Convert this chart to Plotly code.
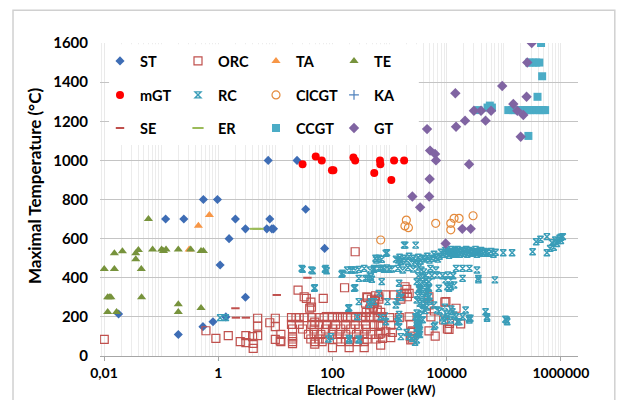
import plotly.graph_objects as go

# ---- data: (electrical power kW, maximal temperature °C) per technology ----
ST = [(0.018, 215), (0.2, 110), (0.54, 150), (0.81, 175), (1.36, 200), (1.08, 465),
      (3.0, 300), (1.55, 600), (3.0, 650), (2.0, 700), (0.12, 700), (0.25, 700),
      (0.55, 800), (0.97, 800), (7.1, 650), (8.7, 650), (9.3, 650), (8.0, 700),
      (34, 750), (73, 550), (7.5, 1000), (24, 1000)]

ORC = [(0.0101, 85), (0.61, 129), (0.91, 90), (1.5, 104), (2.43, 73), (3.05, 104),
       (3.05, 68), (4.0, 99), (4.1, 65), (4.1, 39), (4.9, 193), (4.9, 153), (4.9, 104),
       (8, 170), (10, 193), (10, 150), (10, 85), (12.2, 78), (12.5, 111), (12.5, 73),
       (19.2, 196), (23, 196), (26.2, 196), (32, 196), (43.6, 196), (58.6, 196),
       (71.6, 196), (100, 196), (122, 196), (150, 196), (182, 196), (210, 196),
       (255, 196), (320, 196), (380, 196), (470, 196), (610, 196), (1000, 196), (1480, 196),
       (19.2, 162), (26.2, 162), (43.6, 162), (58.6, 162), (78.5, 162), (114, 162),
       (171, 162), (250, 162), (380, 162), (540, 162), (1050, 158),
       (20, 138), (30, 138), (47.8, 138), (76, 138), (100, 138), (140, 138), (210, 138),
       (290, 138), (390, 138), (4900, 128), (10300, 138),
       (38, 111), (47.8, 111), (62.7, 111), (100, 111), (131, 111), (171, 111),
       (264, 111), (360, 111), (470, 111), (650, 111),
       (20, 87), (41.8, 87), (58.6, 87), (76, 87), (122, 87), (171, 87), (290, 87),
       (405, 87), (580, 87), (2350, 82),
       (20, 73), (49.7, 73), (66, 73), (140, 73), (196, 73), (273, 73), (360, 73),
       (100, 43), (196, 43), (360, 43),
       (20, 98), (20, 63), (49, 61), (49, 173),
       (25, 337), (35, 295), (42, 275), (40, 244), (43, 250), (32, 303), (69, 295),
       (163, 349), (250, 533), (410, 298), (570, 308), (650, 291), (535, 269),
       (610, 235), (390, 223), (470, 261), (700, 223), (700, 162), (700, 117),
       (650, 303), (850, 312), (1200, 312), (1580, 303), (1800, 320), (2200, 320),
       (2050, 303), (1580, 291), (1870, 354), (2000, 341), (750, 193), (650, 158),
       (860, 124), (1120, 121), (750, 90), (1050, 94), (700, 56), (2200, 200),
       (2350, 162), (2500, 124), (2500, 87), (2300, 102), (4900, 261), (6100, 230),
       (5300, 200), (9700, 278), (14600, 244), (11200, 167), (8900, 184), (9300, 275),
       (17600, 164), (11000, 136), (6300, 102), (4900, 303), (2500, 129),
       (400, 303), (480, 290), (550, 280), (450, 240), (520, 250), (380, 270)]

TA = [(0.31, 545), (0.45, 666), (0.70, 721)]

TE = [(0.0101, 445), (0.0152, 445), (0.0152, 525), (0.021, 535), (0.036, 494),
      (0.036, 525), (0.040, 542), (0.045, 445), (0.060, 700), (0.071, 545),
      (0.102, 545), (0.110, 537), (0.122, 545), (0.20, 545), (0.33, 545), (0.50, 537),
      (0.55, 537), (0.0116, 300), (0.0124, 300), (0.0132, 300), (0.0455, 300),
      (0.0116, 225), (0.0166, 225), (0.20, 265), (0.20, 225), (0.50, 245)]

mGT = [(30, 980), (51, 1020), (65, 1000), (98, 950), (104, 950), (233, 1015),
       (250, 1000), (540, 935), (680, 1000), (690, 980), (1075, 900), (1200, 1000),
       (1800, 1000)]

RC = [(1.08, 196), (1.36, 196),
      (29, 448), (30, 443), (43, 440), (45, 436), (74, 443), (76, 448), (79, 436),
      (48, 346), (49, 349), (240, 346), (250, 349), (196, 247), (190, 244), (290, 278),
      (440, 264), (273, 201), (700, 201), (830, 205), (860, 175), (470, 278), (535, 278),
      (650, 320), (1470, 193), (1470, 150), (1580, 99), (94, 99), (85, 87), (196, 82),
      (196, 90), (290, 82), (290, 87),
      (150, 423), (182, 440), (222, 440), (250, 440), (290, 443), (145, 418), (210, 440),
      (360, 448), (455, 440), (535, 443), (800, 443), (1000, 443),
      (290, 397), (380, 397), (410, 397), (470, 405), (490, 392), (730, 380),
      (570, 500), (650, 500), (535, 448), (650, 448), (750, 448), (860, 525), (590, 491),
      (730, 494), (900, 528), (1430, 491), (1580, 482), (1880, 567), (2870, 567),
      (1800, 567),
      (1300, 495), (1500, 505), (1600, 485), (1800, 500), (2000, 490), (2200, 510),
      (2400, 480), (2600, 500), (2900, 490), (3200, 505), (3500, 485), (3800, 500),
      (4200, 495), (4600, 510), (5000, 490), (5500, 500), (6000, 520), (6500, 505),
      (7000, 495), (7500, 510),
      (3000, 470), (3300, 455), (3600, 440), (4000, 430), (3200, 410), (3800, 400),
      (4400, 390), (3000, 380), (3500, 370), (4100, 360), (4800, 350), (3300, 340),
      (3900, 330), (4600, 320), (3100, 310), (3700, 300), (4300, 290), (5000, 280),
      (3400, 270), (3900, 260), (4500, 250), (3700, 240), (4200, 232), (3000, 220),
      (3500, 210), (3200, 195), (3800, 185), (3000, 170), (3400, 160), (3100, 145),
      (3300, 130), (3000, 120), (3400, 110),
      (700, 448), (900, 450), (1100, 445), (1400, 448), (1700, 440), (2100, 452),
      (2600, 445), (5200, 448), (6500, 440), (14600, 448), (19000, 448), (25000, 448),
      (34000, 440),
      (4300, 412), (5500, 410), (6800, 414), (8500, 410), (10500, 414), (13000, 410),
      (36000, 397), (19000, 397), (9600, 389), (11800, 389), (70000, 389), (36000, 389),
      (10300, 354), (11800, 354), (13500, 363), (7300, 346), (11000, 346), (4900, 346),
      (3300, 346), (1470, 372), (4900, 380), (4900, 303),
      (920, 278), (1290, 261), (1370, 278), (3000, 286), (1470, 320), (1600, 300),
      (6000, 261), (6800, 235), (9300, 250), (10300, 201), (11800, 184), (13500, 210),
      (15400, 175), (12600, 226), (14600, 201), (16700, 175), (19000, 201),
      (21500, 235), (25000, 184), (26000, 193), (24600, 193), (10000, 215), (8500, 195),
      (7500, 230), (12000, 240), (9000, 180), (6300, 158), (6000, 150),
      (48000, 226), (51000, 201), (51000, 193), (107000, 188), (115000, 175),
      (112000, 184),
      (2870, 201), (3000, 184), (3300, 167), (3000, 141), (3300, 124), (3000, 82),
      (3300, 150), (3200, 116), (1470, 213), (1380, 175), (2000, 120), (2200, 100),
      (2500, 90), (2800, 70),
      (8000, 530), (8800, 520), (9500, 540), (10000, 525), (10500, 535), (11000, 515),
      (11500, 530), (12000, 545), (12500, 525), (13000, 535), (13500, 520),
      (14000, 540), (14500, 530), (15000, 525), (15500, 545), (16000, 535),
      (17000, 520), (18000, 530), (19000, 540), (20000, 525), (21000, 535),
      (22000, 545), (23000, 520), (24000, 530), (25000, 540), (26500, 525),
      (28000, 535), (30000, 530), (32000, 545), (34000, 520), (36000, 535),
      (38000, 528), (40000, 540), (43000, 525), (46000, 535), (50000, 530),
      (55000, 525), (60000, 535), (66000, 520), (72000, 530), (98000, 528),
      (140000, 528), (320000, 533),
      (370000, 584), (440000, 597), (570000, 610), (700000, 579), (800000, 593),
      (950000, 602), (1000000, 607), (1080000, 610), (650000, 550), (750000, 556),
      (570000, 528), (900000, 590), (1000000, 590), (850000, 575)]

ClCGT = [(700, 593), (1860, 665), (1970, 695), (2140, 656), (6430, 678), (11800, 678),
         (11800, 645), (13500, 704), (16500, 704), (29000, 717)]

# Kalina cycle: legend entry only, no plotted point
KA = [(None, None)]

SE = [(2.0, 244), (2.04, 196), (3.05, 196), (10.6, 312), (36.5, 400), (77, 220),
      (95, 220), (110, 220), (130, 220), (160, 220), (200, 220), (250, 220),
      (300, 220), (360, 220), (450, 220), (600, 220), (750, 220), (540, 303)]

ER = [(4.5, 650), (5.0, 650)]

CCGT = [(450000, 1600), (280000, 1500), (320000, 1500), (370000, 1500), (420000, 1500),
        (470000, 1430), (390000, 1325), (36000, 1257), (52000, 1270), (57000, 1280),
        (62000, 1270), (120000, 1257), (140000, 1257), (160000, 1257), (180000, 1257),
        (200000, 1257), (230000, 1257), (260000, 1257), (290000, 1257), (330000, 1257),
        (380000, 1257), (430000, 1257), (480000, 1257), (530000, 1257), (270000, 1125)]

GT = [(2510, 815), (4950, 815), (3430, 760), (4540, 1160), (5130, 1050), (6270, 1033),
      (6500, 1000), (5040, 905), (9600, 575), (18800, 650), (26400, 650), (24700, 980),
      (14200, 1343), (14600, 1172), (21000, 1203), (30000, 1254), (40000, 1254),
      (60000, 1254), (48000, 1203), (94000, 1380), (147000, 1288), (173000, 1254),
      (220000, 1232), (198000, 1121), (251000, 1325), (258000, 1500), (309000, 1600)]

x_tickvals = [0.01, 1, 100, 10000, 1000000]
x_ticktext = ["0,01", "1", "100", "10000", "1000000"]

# name, points, marker style, legend row
series = [
    ("ST", ST, dict(symbol="diamond", size=7, color="#3E6DB5"), "legend"),
    ("ORC", ORC, dict(symbol="square-open", size=8, color="#C0504D",
                      line=dict(width=1.2)), "legend"),
    ("TA", TA, dict(symbol="triangle-up", size=8, color="#F79646"), "legend"),
    ("TE", TE, dict(symbol="triangle-up", size=8, color="#77933C"), "legend"),
    ("mGT", mGT, dict(symbol="circle", size=8, color="#FF0000"), "legend2"),
    ("RC", RC, dict(symbol="hourglass-open", size=6, color="#3A9DB8",
                    line=dict(width=1.4)), "legend2"),
    ("ClCGT", ClCGT, dict(symbol="circle-open", size=8, color="#E48A3C",
                          line=dict(width=1.2)), "legend2"),
    ("KA", KA, dict(symbol="cross-thin-open", size=7, color="#4F81BD",
                    line=dict(width=1.2)), "legend2"),
    ("SE", SE, dict(symbol="line-ew-open", size=6, color="#C0504D",
                    line=dict(width=2)), "legend3"),
    ("ER", ER, dict(symbol="line-ew-open", size=8, color="#9BBB59",
                    line=dict(width=2)), "legend3"),
    ("CCGT", CCGT, dict(symbol="square", size=8, color="#4BACC6"), "legend3"),
    ("GT", GT, dict(symbol="diamond", size=8, color="#8064A2"), "legend3"),
]

fig = go.Figure()
for name, pts, marker, leg in series:
    fig.add_trace(go.Scatter(
        x=[p for p, t in pts], y=[t for p, t in pts], mode="markers", name=name,
        marker=marker, legend=leg, showlegend=True))

legend_font = dict(family="Lato", size=14.5, color="#000000", weight="bold")
minor_vals = [k * 10.0 ** n for n in range(-3, 7) for k in range(1, 10)]

legend_common = dict(orientation="h", xanchor="left", yanchor="middle",
                     x=0.0, bgcolor="rgba(0,0,0,0)", font=legend_font,
                     entrywidth=33, entrywidthmode="pixels", itemwidth=30,
                     tracegroupgap=0)

fig.update_layout(
    width=618, height=400,
    margin=dict(l=100, r=40, t=43, b=44),
    paper_bgcolor="white", plot_bgcolor="white",
    legend=dict(legend_common, y=0.9425),
    legend2=dict(legend_common, y=0.834),
    legend3=dict(legend_common, y=0.728),
    xaxis=dict(
        type="log", range=[-2.07, 6.3], automargin=False,
        tickvals=x_tickvals, ticktext=x_ticktext,
        tickfont=dict(family="Lato", size=14, color="#000000", weight="bold"),
        showgrid=True, gridcolor="#e9e9e9", gridwidth=1,
        showline=True, linecolor="#a6a6a6", linewidth=1,
        ticks="outside", ticklen=4, tickcolor="#a6a6a6", ticklabelstandoff=0,
        minor=dict(tickvals=minor_vals, showgrid=True, gridcolor="#ececec",
                   gridwidth=1, ticks=""),
        zeroline=False,
    ),
    yaxis=dict(
        range=[0, 1600], dtick=200, automargin=False,
        tickfont=dict(family="Lato", size=15, color="#000000", weight="bold"),
        showgrid=True, gridcolor="#c4c4c4", gridwidth=1,
        ticks="outside", ticklen=8, tickcolor="rgba(0,0,0,0)",
        showline=False, zeroline=False,
    ),
    annotations=[
        dict(text="Electrical Power (kW)", xref="paper", yref="paper",
             x=0.567, y=-0.1406, xanchor="center", yanchor="bottom", showarrow=False,
             font=dict(family="Lato", size=13.5, color="#000000", weight="bold")),
        dict(text="Maximal Temperature (°C)", xref="paper", yref="paper",
             x=-0.138, y=0.543, xanchor="center", yanchor="middle", showarrow=False,
             textangle=-90,
             font=dict(family="Lato", size=17, color="#000000", weight="bold")),
    ],
    shapes=[
        # white panel behind the legend rows
        dict(type="rect", xref="paper", yref="paper", x0=0.019, x1=0.667,
             y0=0.674, y1=0.996, fillcolor="white", line=dict(width=0),
             layer="above"),
        # outer chart frame
        dict(type="rect", xref="paper", yref="paper", x0=-0.182, x1=1.077,
             y0=-0.16, y1=1.105, fillcolor="rgba(0,0,0,0)",
             line=dict(color="#d0d0d0", width=1.5), layer="above"),
    ],
)

fig.write_html("out.html")
